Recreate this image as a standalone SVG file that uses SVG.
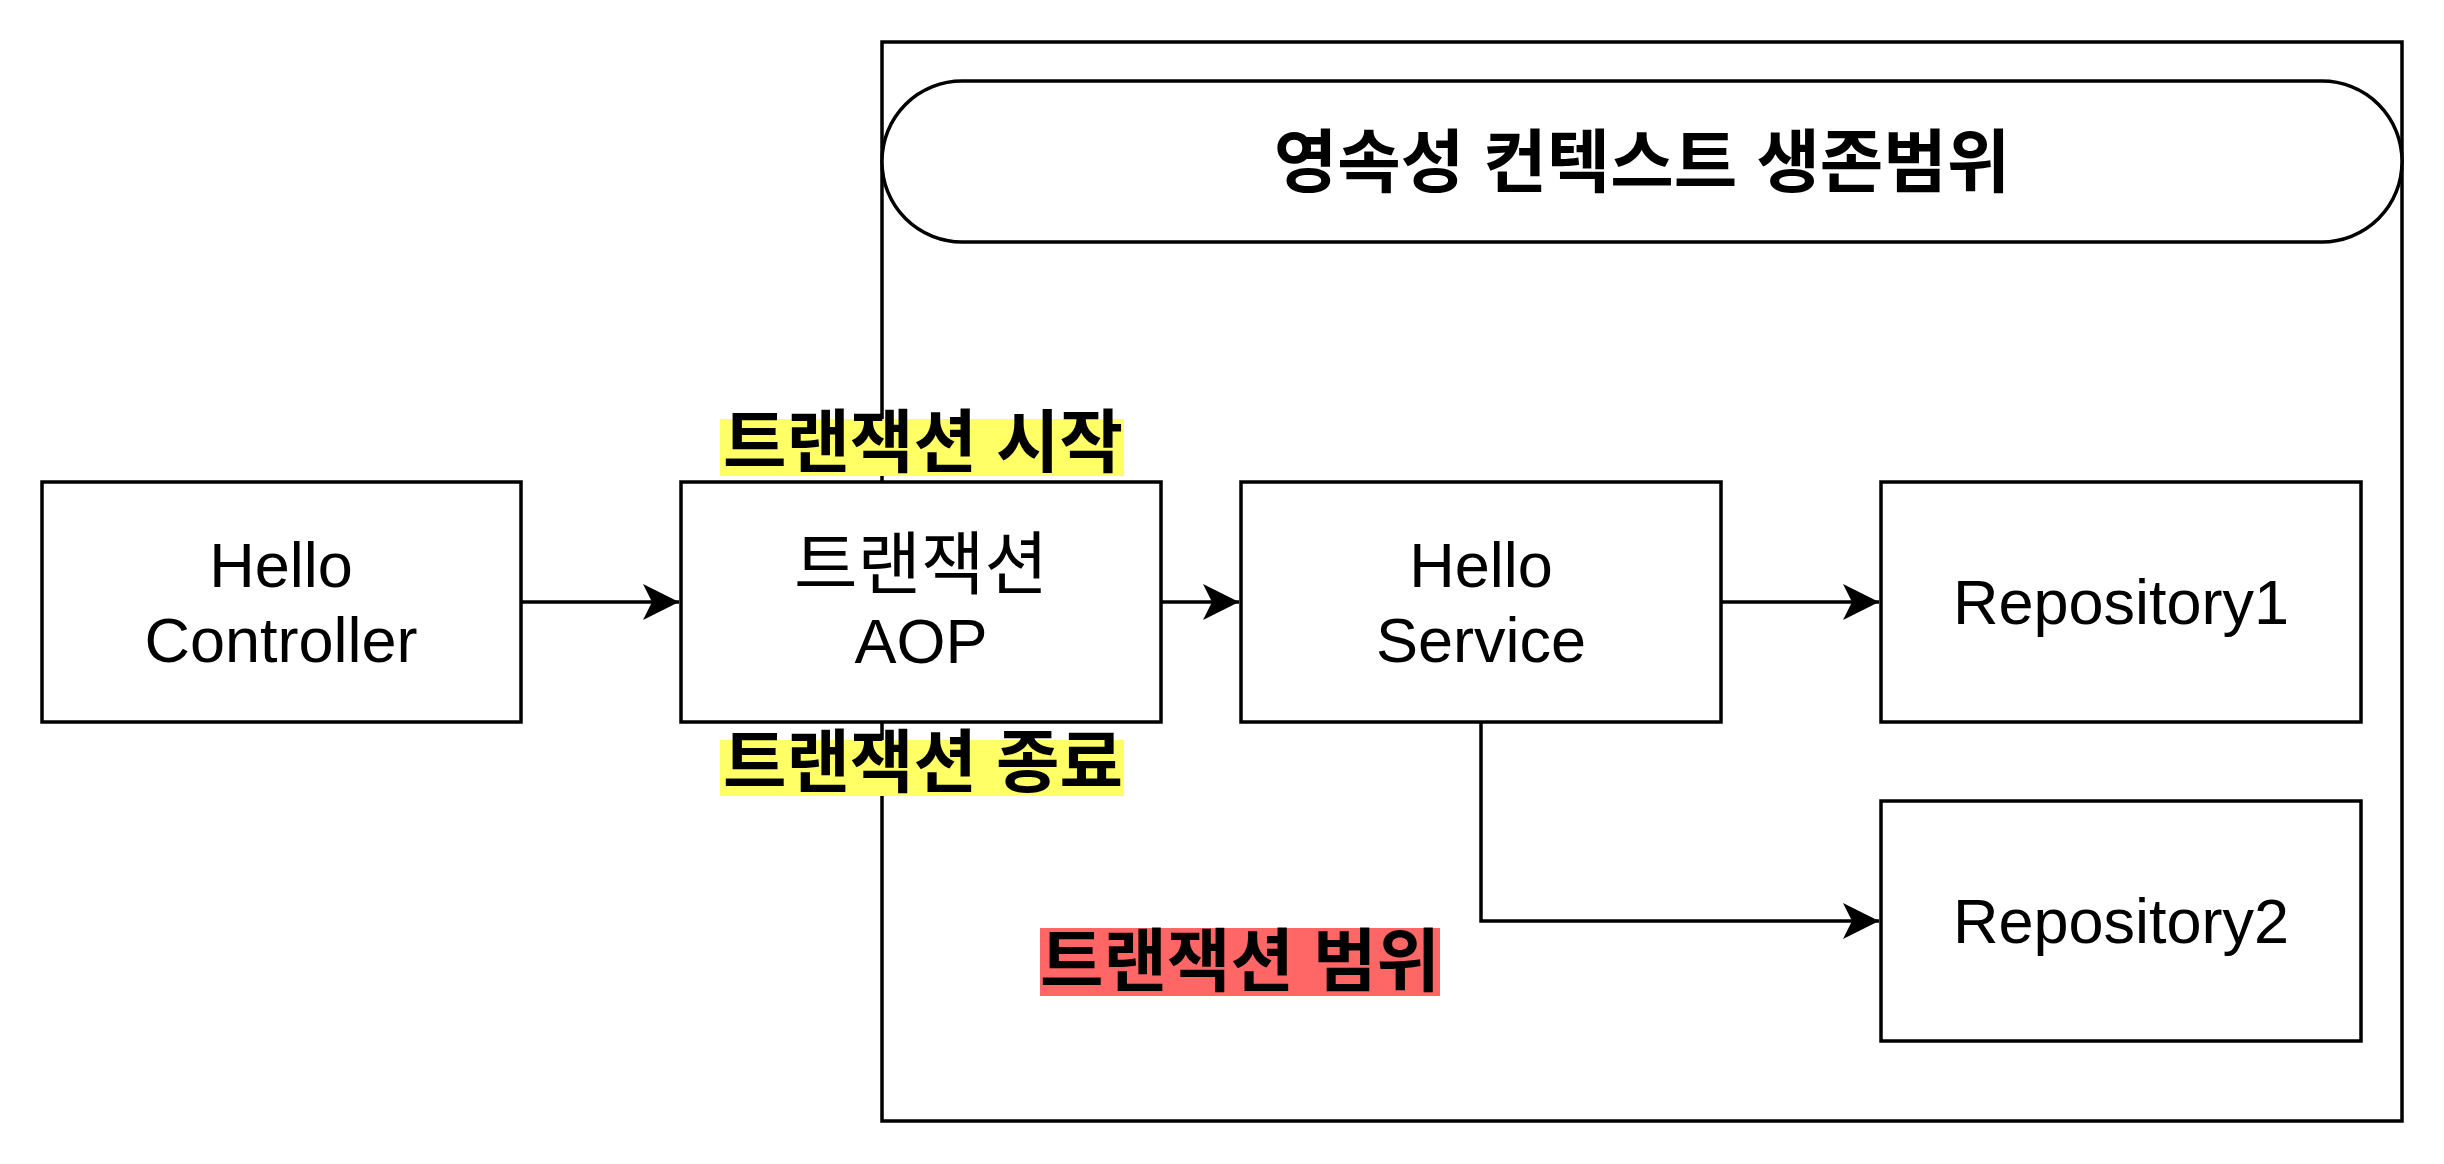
<svg xmlns="http://www.w3.org/2000/svg" width="2444" height="1164" viewBox="0 0 2444 1164">
<style>
.box{fill:#fff;stroke:#000;stroke-width:3.5}
.lbl{font-family:"Liberation Sans","Noto Sans CJK KR",sans-serif;font-size:63px;fill:#000;text-anchor:middle;dominant-baseline:central}
.ko{font-size:69px}
.b{font-weight:bold}
.edge{fill:none;stroke:#000;stroke-width:3.5}
</style>
<defs>
<marker id="arr" markerUnits="userSpaceOnUse" markerWidth="40" markerHeight="40" viewBox="-38 -20 40 40" refX="0" refY="0" orient="auto">
<path d="M0,0 L-36,-18 L-27,0 L-36,18 Z" fill="#000"/>
</marker>
</defs>
<rect width="2444" height="1164" fill="#fff"/>
<g id="container">
<rect x="882" y="42" width="1520" height="1079" fill="#fff" stroke="#000" stroke-width="3.5"/>
</g>
<g id="title">
<rect class="box" x="882" y="81" width="1520" height="161" rx="80" ry="80"/>
<text class="lbl ko b" x="1642" y="163">영속성 컨텍스트 생존범위</text>
</g>
<g id="tx-start">
<rect x="720" y="419" width="404" height="57" fill="#ffff66"/>
<text class="lbl ko b" x="923" y="443">트랜잭션 시작</text>
</g>
<g id="tx-end">
<rect x="720" y="740" width="404" height="56" fill="#ffff66"/>
<text class="lbl ko b" x="923" y="763">트랜잭션 종료</text>
</g>
<g id="tx-scope">
<rect x="1040" y="928" width="400" height="68" fill="#ff6666"/>
<text class="lbl ko b" x="1240" y="962">트랜잭션 범위</text>
</g>
<g id="connectors">
<path class="edge" d="M521,602 L679,602" marker-end="url(#arr)"/>
<path class="edge" d="M1161,602 L1239,602" marker-end="url(#arr)"/>
<path class="edge" d="M1721,602 L1879,602" marker-end="url(#arr)"/>
<path class="edge" d="M1481,722 L1481,921 L1879,921" marker-end="url(#arr)"/>
</g>
<g id="hello-controller">
<rect class="box" x="42" y="482" width="479" height="240"/>
<text class="lbl" x="281" y="565">Hello<tspan x="281" dy="75">Controller</tspan></text>
</g>
<g id="tx-aop">
<rect class="box" x="681" y="482" width="480" height="240"/>
<text class="lbl ko" x="921" y="565">트랜잭션</text>
<text class="lbl" x="921" y="641">AOP</text>
</g>
<g id="hello-service">
<rect class="box" x="1241" y="482" width="480" height="240"/>
<text class="lbl" x="1481" y="565">Hello<tspan x="1481" dy="75">Service</tspan></text>
</g>
<g id="repository1">
<rect class="box" x="1881" y="482" width="480" height="240"/>
<text class="lbl" x="2121" y="602">Repository1</text>
</g>
<g id="repository2">
<rect class="box" x="1881" y="801" width="480" height="240"/>
<text class="lbl" x="2121" y="921">Repository2</text>
</g>
</svg>
